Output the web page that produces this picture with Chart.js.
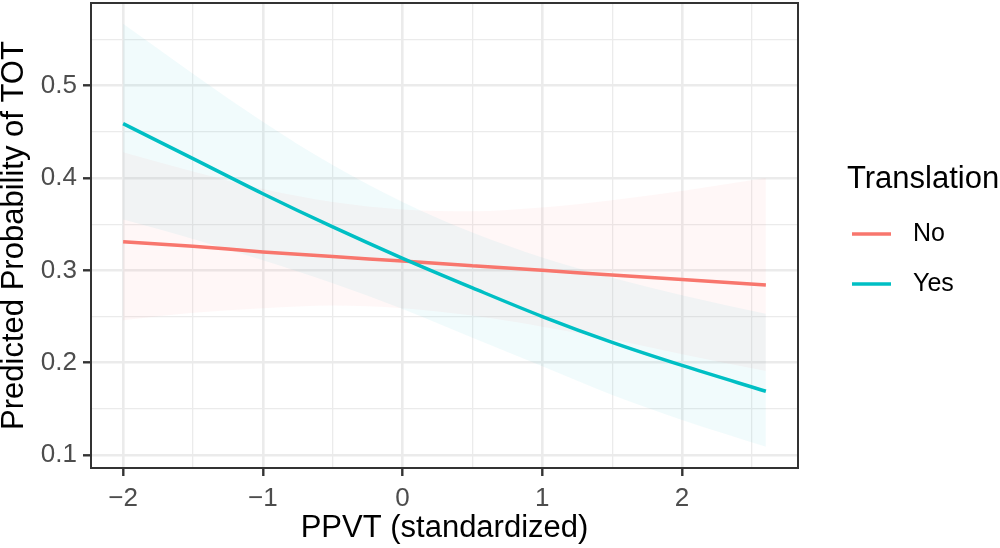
<!DOCTYPE html>
<html><head><meta charset="utf-8">
<script src="https://cdn.jsdelivr.net/npm/chart.js@4.4.0/dist/chart.umd.min.js"></script>
<style>html,body{margin:0;padding:0;background:#fff;overflow:hidden}</style>
</head><body>
<canvas id="c" width="1000" height="548"></canvas>
<script>
// ---- data ----
const xValues   = [-2, -1.5, -1, -0.5, 0, 0.5, 1, 1.5, 2, 2.6];
const noFit     = [0.331, 0.326, 0.320, 0.315, 0.310, 0.305, 0.300, 0.295, 0.290, 0.284];
const noLower   = [0.246, 0.254, 0.259, 0.262, 0.259, 0.251, 0.239, 0.225, 0.209, 0.191];
const noUpper   = [0.428, 0.407, 0.388, 0.374, 0.366, 0.364, 0.368, 0.376, 0.386, 0.400];
const yesFit    = [0.459, 0.421, 0.383, 0.347, 0.313, 0.281, 0.250, 0.222, 0.197, 0.169];
const yesLower  = [0.355, 0.334, 0.311, 0.286, 0.258, 0.227, 0.196, 0.165, 0.138, 0.109];
const yesUpper  = [0.567, 0.513, 0.461, 0.414, 0.374, 0.341, 0.314, 0.292, 0.273, 0.253];
const seriesNames = ['No', 'Yes'];
const xMajorTicks = [-2, -1, 0, 1, 2];
const xMinorTicks = [-1.5, -0.5, 0.5, 1.5, 2.5];
const yMajorTicks = [0.1, 0.2, 0.3, 0.4, 0.5];
const yMinorTicks = [0.15, 0.25, 0.35, 0.45, 0.55];
const legendTitle = 'Translation';
const xTitle = 'PPVT (standardized)';
const yTitle = 'Predicted Probability of TOT';

// ---- styling ----
const FONT = "'Liberation Sans', Arial, Helvetica, sans-serif";
const colNo = '#F8766D', colYes = '#00BFC4';
const fillNo = 'rgba(248,118,109,0.055)', fillYes = 'rgba(0,191,196,0.055)';
const pts = arr => xValues.map((x, i) => ({x: x, y: arr[i]}));
const isMajor = (v, list) => list.some(m => Math.abs(m - v) < 1e-6);
const fmtX = v => (v < 0 ? '\u2212' + Math.abs(v) : String(v));

const ribbon = (data, color, fill, order) => ({
  data: pts(data), borderWidth: 0, borderColor: 'rgba(0,0,0,0)', backgroundColor: color,
  fill: fill, pointRadius: 0, order: order, cubicInterpolationMode: 'monotone'
});

const datasets = [
  ribbon(noLower, fillNo, false, 6),
  ribbon(noUpper, fillNo, '-1', 5),
  ribbon(yesLower, fillYes, false, 4),
  ribbon(yesUpper, fillYes, '-1', 3),
  {label: seriesNames[0], data: pts(noFit), borderColor: colNo, borderWidth: 3.5, pointRadius: 0, fill: false, order: 2, cubicInterpolationMode: 'monotone'},
  {label: seriesNames[1], data: pts(yesFit), borderColor: colYes, borderWidth: 3.5, pointRadius: 0, fill: false, order: 1, cubicInterpolationMode: 'monotone'}
];

const gridOpts = (major) => ({
  color: '#EBEBEB',
  lineWidth: c => (c.tick && isMajor(c.tick.value, major)) ? 2.6 : 1.3,
  tickColor: c => (c.tick && isMajor(c.tick.value, major)) ? '#333333' : 'rgba(0,0,0,0)',
  tickWidth: 2.4,
  tickLength: 8,
  drawTicks: true
});

const panelBorder = {
  id: 'panelBorder',
  afterDatasetsDraw(chart) {
    const {ctx, chartArea: a} = chart;
    ctx.save();
    ctx.strokeStyle = '#333333';
    ctx.lineWidth = 2;
    ctx.strokeRect(a.left, a.top, a.right - a.left, a.bottom - a.top);
    ctx.restore();
  }
};

const ggLegend = {
  id: 'ggLegend',
  afterDraw(chart) {
    const ctx = chart.ctx;
    ctx.save();
    ctx.fillStyle = '#000';
    ctx.textBaseline = 'middle';
    ctx.textAlign = 'left';
    ctx.font = '31px ' + FONT;
    ctx.fillText(legendTitle, 847, 179);
    const lines = [chart.data.datasets[4], chart.data.datasets[5]];
    const ys = [234, 284];
    ctx.font = '25px ' + FONT;
    lines.forEach((ds, i) => {
      ctx.strokeStyle = ds.borderColor;
      ctx.lineWidth = 3.5;
      ctx.beginPath();
      ctx.moveTo(852, ys[i]);
      ctx.lineTo(891, ys[i]);
      ctx.stroke();
      ctx.fillStyle = '#000';
      ctx.fillText(ds.label, 913, ys[i]);
    });
    ctx.restore();
  }
};

new Chart(document.getElementById('c'), {
  type: 'line',
  data: {datasets: datasets},
  plugins: [panelBorder, ggLegend],
  options: {
    responsive: false,
    animation: false,
    devicePixelRatio: window.devicePixelRatio || 1,
    layout: {padding: {left: 0, top: 3, right: 202, bottom: 0}},
    plugins: {legend: {display: false}, tooltip: {enabled: false}},
    scales: {
      x: {
        type: 'linear', min: -2.23, max: 2.83,
        afterBuildTicks: s => { s.ticks = xMajorTicks.concat(xMinorTicks).sort((a, b) => a - b).map(v => ({value: v})); },
        afterFit: s => { s.height = 80; s.paddingLeft = 0; s.paddingRight = 0; },
        grid: gridOpts(xMajorTicks),
        border: {display: false},
        ticks: {
          autoSkip: false, maxRotation: 0, padding: 7, color: '#4D4D4D',
          font: {family: FONT, size: 26},
          callback: v => isMajor(v, xMajorTicks) ? fmtX(v) : ''
        },
        title: {display: true, text: xTitle, color: '#000', font: {family: FONT, size: 31, lineHeight: 1}, padding: {top: 0, bottom: 4}}
      },
      y: {
        type: 'linear', min: 0.0859, max: 0.5896,
        afterBuildTicks: s => { s.ticks = yMajorTicks.concat(yMinorTicks).sort((a, b) => a - b).map(v => ({value: v})); },
        afterFit: s => { s.width = 91; s.paddingTop = 0; s.paddingBottom = 0; },
        grid: gridOpts(yMajorTicks),
        border: {display: false},
        ticks: {
          autoSkip: false, padding: 6, color: '#4D4D4D',
          font: {family: FONT, size: 26},
          callback: v => isMajor(v, yMajorTicks) ? v.toFixed(1) : ''
        },
        title: {display: true, text: yTitle, color: '#000', font: {family: FONT, size: 31, lineHeight: 0.92}, padding: {top: 0, bottom: 0}}
      }
    }
  }
});
</script>
</body></html>
